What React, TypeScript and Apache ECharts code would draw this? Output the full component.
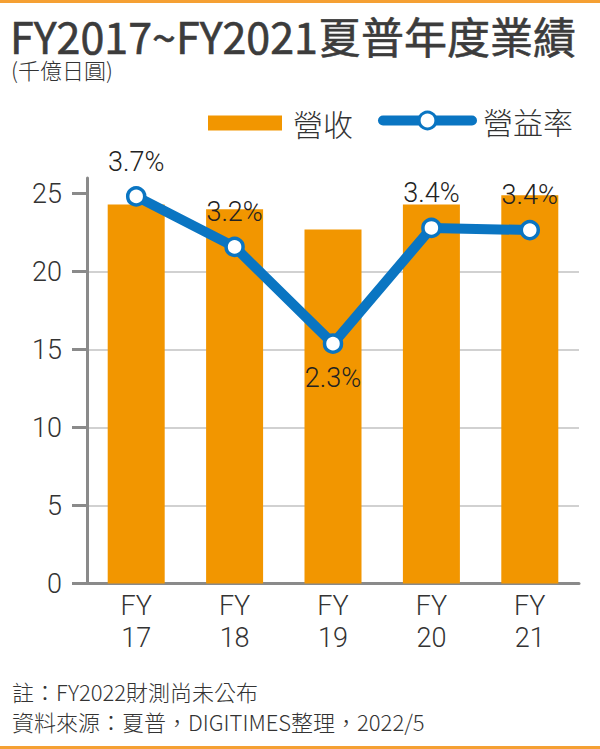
import * as echarts from 'echarts'
import { useEffect, useRef } from 'react'

const years = ['FY\n17', 'FY\n18', 'FY\n19', 'FY\n20', 'FY\n21']
// 營收（千億日圓）
const revenue = [24.3, 24.0, 22.7, 24.3, 24.9]
// 營益率（%）
const margin = [3.7, 3.22, 2.3, 3.4, 3.38]
const yTicks = [0, 5, 10, 15, 20, 25]

const ORANGE = '#f29600'
const BLUE = '#0a75c2'
const INK = '#333333'
const CJK = '"Noto Sans CJK TC", "Noto Sans CJK SC", sans-serif'
const LATIN = 'Roboto, "Noto Sans CJK TC", sans-serif'

export default function App() {
  const ref = useRef<HTMLDivElement>(null)

  useEffect(() => {
    if (!ref.current) return
    const chart = echarts.init(ref.current, null, { renderer: 'svg' })
    const minMargin = Math.min(...margin)

    chart.setOption({
      animation: false,
      backgroundColor: '#ffffff',
      textStyle: { fontFamily: CJK, color: INK },
      title: [
        {
          text: 'FY2017~FY2021夏普年度業績',
          left: 10,
          top: 15,
          padding: 0,
          textStyle: {
            fontFamily: CJK,
            fontSize: 43,
            fontWeight: 'normal',
            color: '#3c3c3c',
            textBorderColor: '#3c3c3c',
            textBorderWidth: 0.6,
            lineHeight: 40,
          },
        },
        {
          text: '(千億日圓)',
          left: 11,
          top: 58,
          padding: 0,
          textStyle: { fontFamily: CJK, fontSize: 22, fontWeight: 300, color: INK, lineHeight: 22 },
        },
        {
          text: '註：FY2022財測尚未公布',
          left: 12,
          top: 679,
          padding: 0,
          textStyle: { fontFamily: CJK, fontSize: 22, fontWeight: 300, color: INK, lineHeight: 24 },
        },
        {
          text: '資料來源：夏普，DIGITIMES整理，2022/5',
          left: 12,
          top: 709,
          padding: 0,
          textStyle: { fontFamily: CJK, fontSize: 22, fontWeight: 300, color: INK, lineHeight: 24 },
        },
      ],
      legend: [
        {
          data: ['營收'],
          left: 208,
          top: 108,
          padding: 0,
          icon: 'rect',
          itemWidth: 74,
          itemHeight: 15,
          selectedMode: false,
          textStyle: { fontFamily: CJK, fontSize: 30, fontWeight: 300, color: INK, padding: [0, 0, 0, 6] },
        },
        {
          data: ['營益率'],
          left: 378,
          top: 105.5,
          padding: 0,
          itemWidth: 89,
          itemHeight: 21,
          selectedMode: false,
          lineStyle: { width: 10, color: BLUE, cap: 'round' },
          itemStyle: { color: '#ffffff', borderColor: BLUE, borderWidth: 3 },
          textStyle: { fontFamily: CJK, fontSize: 30, fontWeight: 300, color: INK, padding: [0, 0, 0, 6] },
        },
      ],
      grid: { left: 87, right: 21, top: 178, bottom: 165.5 },
      xAxis: {
        type: 'category',
        data: years,
        axisLine: { lineStyle: { color: '#8a8a8a', width: 3 } },
        axisTick: { show: false },
        axisLabel: {
          fontFamily: LATIN,
          fontWeight: 300,
          fontSize: 27,
          lineHeight: 32,
          color: INK,
          margin: 6,
        },
      },
      yAxis: [
        {
          type: 'value',
          min: 0,
          max: 26,
          interval: 5,
          axisLine: { show: true, lineStyle: { color: '#8a8a8a', width: 3 } },
          axisTick: { show: true, length: 15, customValues: yTicks, lineStyle: { color: '#8a8a8a', width: 3 } },
          axisLabel: {
            customValues: yTicks,
            fontFamily: LATIN,
            fontWeight: 300,
            fontSize: 27,
            color: INK,
            margin: 25,
          },
          splitLine: { show: true, showMaxLine: false, lineStyle: { color: '#c2c2c2', width: 1.5 } },
        },
        {
          type: 'value',
          show: false,
          min: 0.02,
          max: 3.875,
          splitLine: { show: false },
        },
      ],
      series: [
        {
          name: '營收',
          type: 'bar',
          data: revenue,
          barWidth: 57,
          itemStyle: { color: ORANGE },
          z: 2,
        },
        {
          name: '營益率',
          type: 'line',
          yAxisIndex: 1,
          data: margin.map((v) => ({
            value: v,
            label: { position: v === minMargin ? 'bottom' : 'top' },
          })),
          symbol: 'circle',
          symbolSize: 17,
          lineStyle: { width: 10, color: BLUE },
          itemStyle: { color: '#ffffff', borderColor: BLUE, borderWidth: 3.5 },
          label: {
            show: true,
            distance: 11,
            fontFamily: LATIN,
            fontWeight: 300,
            fontSize: 27,
            color: '#222222',
            formatter: (p: { value: number }) => `${p.value.toFixed(1)}%`,
          },
          z: 5,
        },
      ],
      graphic: [
        { type: 'rect', left: 0, top: 0, shape: { width: 600, height: 3 }, style: { fill: '#f5a033' }, silent: true },
        { type: 'rect', left: 0, bottom: 0, shape: { width: 600, height: 3 }, style: { fill: '#f5a033' }, silent: true },
      ],
    })

    return () => {
      chart.dispose()
    }
  }, [])

  return (
    <div
      ref={ref}
      style={{ position: 'fixed', left: 0, top: 0, width: 600, height: 749, background: '#ffffff' }}
    />
  )
}
